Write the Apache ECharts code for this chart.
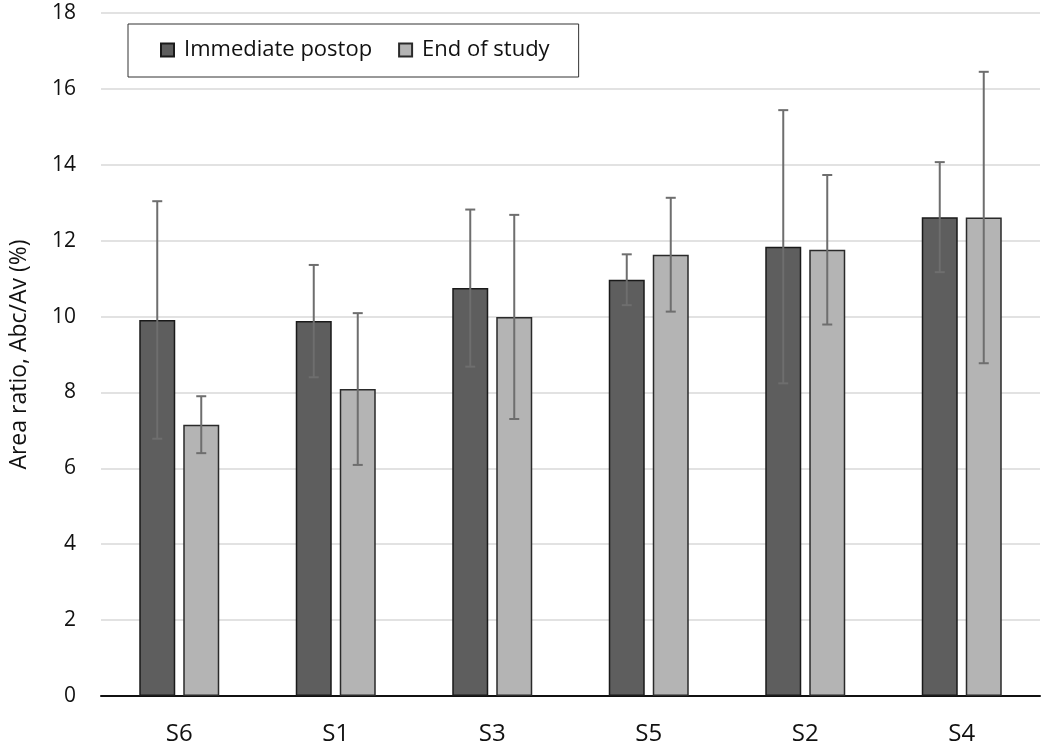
<!DOCTYPE html>
<html>
<head>
<meta charset="utf-8">
<script src="https://cdn.jsdelivr.net/npm/echarts@6/dist/echarts.min.js"></script>
<style>
html,body{margin:0;padding:0;background:#fff;}
#chart{width:1050px;height:749px;}
</style>
</head>
<body>
<div id="chart"></div>
<script>
const categories = ['S6', 'S1', 'S3', 'S5', 'S2', 'S4'];
const immediateMean = [9.91, 9.88, 10.75, 10.97, 11.84, 12.62];
const immediateErr  = [3.13, 1.48, 2.07, 0.67, 3.60, 1.45];
const endMean = [7.15, 8.09, 9.99, 11.63, 11.76, 12.61];
const endErr  = [0.75, 2.00, 2.69, 1.50, 1.97, 3.84];
const yTicks = [0, 2, 4, 6, 8, 10, 12, 14, 16, 18];

const FONT = "'Open Sans', 'Noto Sans', sans-serif";
const BAR_W = 36, BAR_GAP = 8;

function errSeries(name, means, errs, side) {
  return {
    type: 'custom',
    name: name + ' err',
    z: 5,
    silent: true,
    data: means.map((m, i) => [i, m - errs[i], m + errs[i]]),
    renderItem: function (params, api) {
      const idx = api.value(0);
      const lo = api.coord([idx, api.value(1)]);
      const hi = api.coord([idx, api.value(2)]);
      const x = lo[0] + side * (BAR_W + BAR_GAP) / 2;
      const cap = 5;
      const style = { stroke: '#6e6e6e', lineWidth: 2 };
      return {
        type: 'group',
        children: [
          { type: 'line', shape: { x1: x, y1: lo[1], x2: x, y2: hi[1] }, style: style },
          { type: 'line', shape: { x1: x - cap, y1: hi[1], x2: x + cap, y2: hi[1] }, style: style },
          { type: 'line', shape: { x1: x - cap, y1: lo[1], x2: x + cap, y2: lo[1] }, style: style }
        ]
      };
    }
  };
}

const chart = echarts.init(document.getElementById('chart'));
chart.setOption({
  animation: false,
  backgroundColor: '#fff',
  grid: { left: 97, right: 10, top: 13, bottom: 53, containLabel: false },
  legend: {
    left: 128, top: 24,
    padding: [15, 29, 16, 32],
    itemGap: 26,
    itemWidth: 13, itemHeight: 13,
    icon: 'rect',
    borderColor: '#333', borderWidth: 1,
    textStyle: { fontFamily: FONT, fontSize: 22, color: '#111', padding: [0, 0, 0, 5] },
    data: ['Immediate postop', 'End of study']
  },
  xAxis: {
    type: 'category',
    data: categories,
    axisLine: { lineStyle: { color: '#111', width: 2 } },
    axisTick: { show: false },
    axisLabel: { fontFamily: FONT, fontSize: 24, color: '#111', margin: 26 }
  },
  yAxis: {
    type: 'value',
    min: 0, max: 18, interval: 2,
    name: 'Area ratio, Abc/Av (%)',
    nameLocation: 'middle',
    nameGap: 70,
    nameTextStyle: { fontFamily: FONT, fontSize: 23, color: '#111' },
    axisLine: { show: false },
    axisTick: { show: false },
    splitLine: { lineStyle: { color: '#d9d9d9', width: 1.5 } },
    axisLabel: {
      fontFamily: FONT, fontSize: 21, color: '#111', margin: 25,
      formatter: v => yTicks.includes(v) ? String(v) : ''
    }
  },
  series: [
    {
      name: 'Immediate postop', type: 'bar', data: immediateMean,
      barWidth: BAR_W, barGap: (BAR_GAP / BAR_W * 100) + '%',
      itemStyle: { color: '#5e5e5e', borderColor: '#1a1a1a', borderWidth: 1.5 }
    },
    {
      name: 'End of study', type: 'bar', data: endMean,
      barWidth: BAR_W,
      itemStyle: { color: '#b4b4b4', borderColor: '#2a2a2a', borderWidth: 1.5 }
    },
    errSeries('Immediate postop', immediateMean, immediateErr, -1),
    errSeries('End of study', endMean, endErr, 1)
  ]
});
</script>
</body>
</html>
